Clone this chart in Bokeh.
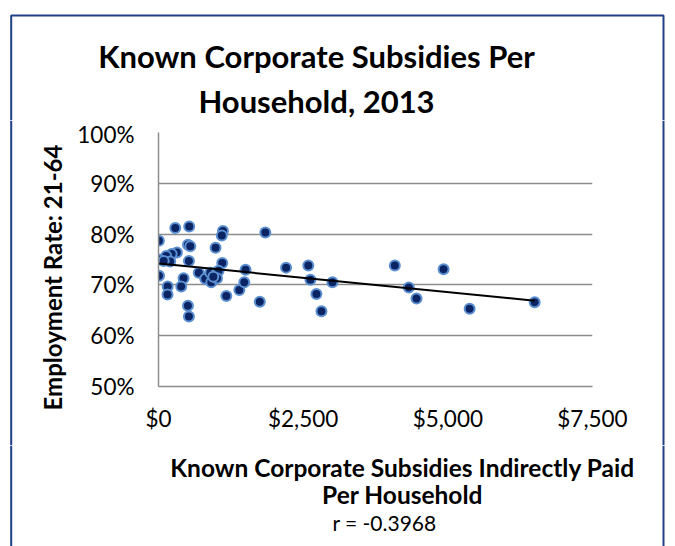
import numpy as np
from bokeh.plotting import figure
from bokeh.layouts import column, row
from bokeh.models import (Range1d, FixedTicker, NumeralTickFormatter, Label,
                          BoxAnnotation, Span, ColumnDataSource)
from bokeh.embed import file_html
from bokeh.resources import INLINE

# ---- data ----
subsidy = [290, 531, 1114, 1094, 7, 509, 549, 986, 318, 228,
           133, 5, 202, 526, 1102, 10, 696, 808, 895, 1011,
           1038, 912, 1011, 433, 393, 159, 156, 509, 526, 1172,
           1397, 1483, 1504, 1846, 2205, 2589, 2625, 2729, 2816, 3006,
           1751, 4084, 4927, 4326, 4459, 5377, 6501, 90, 947]
employment = [0.812, 0.815, 0.806, 0.797, 0.787, 0.779, 0.776, 0.773, 0.764, 0.761,
              0.757, 0.750, 0.746, 0.747, 0.743, 0.718, 0.724, 0.712, 0.724, 0.725,
              0.728, 0.705, 0.713, 0.713, 0.697, 0.697, 0.681, 0.659, 0.638, 0.678,
              0.690, 0.705, 0.730, 0.803, 0.734, 0.738, 0.710, 0.682, 0.648, 0.705,
              0.667, 0.738, 0.731, 0.695, 0.673, 0.653, 0.666, 0.747, 0.716]

x_ticks = [0, 2500, 5000, 7500]
y_ticks = [0.5, 0.6, 0.7, 0.8, 0.9, 1.0]

title_lines = ["Known Corporate Subsidies Per", "Household, 2013"]
x_title_lines = ["Known Corporate Subsidies Indirectly Paid", "Per Household"]
y_title = "Employment Rate: 21-64"
r_text = "r = -0.3968"

# ---- trendline (least squares) ----
xs = np.array(subsidy, dtype=float)
ys = np.array(employment, dtype=float)
slope, intercept = np.polyfit(xs, ys, 1)
trend_x = [xs.min(), xs.max()]
trend_y = [intercept + slope * v for v in trend_x]

FONT = "Lato"
BORDER = "#203f86"
W, H = 675, 546
TOP_H = 120          # height of title strip
BOT_Y = 445          # where bottom strip starts
LEFT_W = 68          # width of y-title strip
RIGHT_X = 640        # where right strip starts
BL, BR, BT = 10.7, 663, 15   # outer chart border (page pixels)


def strip(x0, x1, y0, y1, top_edge=False):
    """Blank figure whose data coordinates equal page pixels."""
    f = figure(width=int(x1 - x0), height=int(y1 - y0), output_backend="svg",
               toolbar_location=None, x_axis_type=None, y_axis_type=None,
               x_range=Range1d(x0, x1), y_range=Range1d(y1, y0),
               min_border_left=0, min_border_right=0,
               min_border_top=0, min_border_bottom=0, frame_align=False)
    f.outline_line_color = None
    f.grid.visible = False
    if top_edge:
        f.add_layout(BoxAnnotation(left=BL, right=BR, top=BT, bottom=y1 + 50,
                                   fill_alpha=0, line_color=BORDER,
                                   line_alpha=1.0, line_width=2))
    else:
        for xb in (BL, BR):
            if x0 <= xb <= x1:
                f.add_layout(Span(location=xb, dimension="height",
                                  line_color=BORDER, line_width=2))
    return f


# ---- title strip ----
top = strip(0, W, 0, TOP_H, top_edge=True)
for txt, py in zip(title_lines, [55, 100]):
    top.add_layout(Label(x=316, y=py, text=txt, text_font=FONT,
                         text_font_size="31px", text_font_style="bold",
                         text_align="center", text_baseline="middle",
                         text_color="#000000"))

# ---- y title strip ----
left = strip(0, LEFT_W, TOP_H, BOT_Y)
left.add_layout(Label(x=52, y=277, text=y_title, text_font=FONT,
                      text_font_size="24px", text_font_style="bold",
                      angle=np.pi / 2, text_align="center", text_baseline="middle",
                      text_color="#000000"))

# ---- right strip (border only) ----
right = strip(RIGHT_X, W, TOP_H, BOT_Y)

# ---- main plot ----
p = figure(width=RIGHT_X - LEFT_W, height=BOT_Y - TOP_H, output_backend="svg",
           toolbar_location=None, frame_align=False,
           x_range=Range1d(0, 7500), y_range=Range1d(0.5, 1.0),
           min_border_left=158 - LEFT_W, min_border_right=RIGHT_X - 592,
           min_border_top=132 - TOP_H, min_border_bottom=BOT_Y - 386)
p.outline_line_color = None

p.xgrid.visible = False
p.ygrid.ticker = FixedTicker(ticks=y_ticks)
p.ygrid.grid_line_color = "#8c8c8c"
p.ygrid.grid_line_width = 1.5

for ax in (p.xaxis[0], p.yaxis[0]):
    ax.major_tick_line_color = None
    ax.minor_tick_line_color = None
    ax.major_tick_out = 0
    ax.major_tick_in = 0
    ax.axis_line_color = "#8c8c8c"
    ax.axis_line_width = 1.5
    ax.major_label_text_font = FONT
    ax.major_label_text_font_size = "22.5px"
    ax.major_label_text_color = "#000000"
p.xaxis.ticker = FixedTicker(ticks=x_ticks)
p.xaxis.formatter = NumeralTickFormatter(format="$0,0")
p.xaxis.major_label_standoff = 18
p.yaxis.ticker = FixedTicker(ticks=y_ticks)
p.yaxis.formatter = NumeralTickFormatter(format="0%")
p.yaxis.major_label_standoff = 24

src = ColumnDataSource(dict(x=subsidy, y=employment))
p.scatter("x", "y", source=src, size=10, fill_color="#0a2464",
          line_color="#5b8fd0", line_width=2)
p.line(trend_x, trend_y, line_color="#000000", line_width=2)

# ---- bottom strip: x title and r ----
bottom = strip(0, W, BOT_Y, H)
for txt, py in zip(x_title_lines, [467, 494]):
    bottom.add_layout(Label(x=402, y=py, text=txt, text_font=FONT,
                            text_font_size="24.5px", text_font_style="bold",
                            text_align="center", text_baseline="middle",
                            text_color="#000000"))
bottom.add_layout(Label(x=384, y=522, text=r_text, text_font=FONT,
                        text_font_size="21px", text_align="center",
                        text_baseline="middle", text_color="#000000"))

layout = column(top, row(left, p, right), bottom)
open("out.html", "w").write(file_html(layout, INLINE))
